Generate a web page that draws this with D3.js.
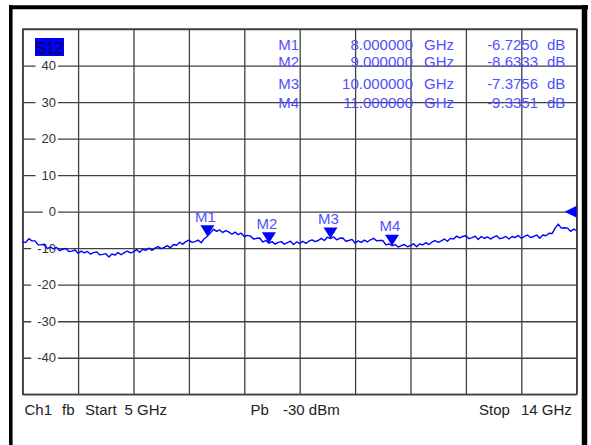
<!DOCTYPE html>
<html>
<head>
<meta charset="utf-8">
<script src="https://cdn.jsdelivr.net/npm/d3@7/dist/d3.min.js"></script>
<style>
  html, body { margin: 0; padding: 0; background: #fff; }
  svg { display: block; font-family: "Liberation Sans", Arial, sans-serif; }
</style>
</head>
<body>
<svg id="chart" width="591" height="445"></svg>
<script>
// ---- data ----
const startGHz = 5;
const stopGHz = 14;
const yTickValues = [40, 30, 20, 10, 0, -10, -20, -30, -40];
const traceName = "S12";
// measured S12 (dB), 181 sweep points from 5 GHz to 14 GHz
const traceDB = [
  -8.3, -8.4, -7.4, -8.0, -8.0, -9.1, -9.1, -8.9, -10.1, -9.7,
  -10.2, -9.8, -10.7, -10.3, -10.1, -10.9, -10.8, -10.5, -11.4, -10.8,
  -11.3, -10.9, -11.6, -11.2, -11.0, -11.8, -11.7, -11.5, -12.4, -11.6,
  -11.9, -11.2, -11.8, -11.2, -10.8, -11.3, -11.0, -10.4, -11.1, -10.3,
  -10.6, -10.0, -10.6, -10.0, -9.6, -10.1, -9.8, -9.3, -9.9, -9.0,
  -9.2, -8.4, -8.9, -8.2, -7.8, -8.4, -8.2, -7.8, -8.5, -7.4,
  -6.725, -5.8, -4.8, -5.4, -5.0, -5.7, -5.2, -5.6, -6.2, -5.6,
  -6.3, -5.9, -6.8, -6.5, -6.7, -7.5, -7.3, -7.2, -8.3, -7.9,
  -8.633, -8.2, -8.9, -8.4, -8.2, -8.9, -8.5, -8.1, -9.0, -8.3,
  -8.7, -8.1, -8.7, -8.1, -7.7, -8.2, -7.9, -7.3, -7.9, -7.0,
  -7.376, -6.9, -7.7, -7.3, -7.2, -8.1, -7.9, -7.6, -8.6, -8.0,
  -8.4, -7.8, -8.3, -7.7, -7.3, -8.0, -7.9, -7.9, -9.1, -8.8,
  -9.335, -9.0, -9.7, -9.3, -9.0, -9.6, -9.3, -8.8, -9.6, -8.8,
  -9.1, -8.5, -9.0, -8.3, -7.9, -8.4, -8.0, -7.5, -8.1, -7.3,
  -7.5, -6.7, -7.2, -6.8, -6.6, -7.4, -7.1, -6.7, -7.6, -6.8,
  -7.3, -6.9, -7.5, -7.0, -6.6, -7.4, -7.2, -6.8, -7.5, -6.8,
  -7.1, -6.5, -7.3, -6.8, -6.4, -7.1, -6.8, -6.4, -7.3, -6.4,
  -6.6, -5.9, -6.0, -4.5, -3.4, -4.5, -4.4, -4.5, -5.4, -4.8,
  -5.2
];
const markerNames = ["M1", "M2", "M3", "M4"];
const markerGHz = [8, 9, 10, 11];
const markerDB = [-6.7250, -8.6333, -7.3756, -9.3351];
const markerFreqText = ["8.000000", "9.000000", "10.000000", "11.000000"];
const markerValText = ["-6.7250", "-8.6333", "-7.3756", "-9.3351"];
const refLevelDB = 0;
const footerTexts = ["Ch1", "fb", "Start", "5 GHz", "Pb", "-30 dBm", "Stop", "14 GHz"];

// ---- layout ----
const svg = d3.select("#chart");
const L = 22.7, R = 576.7, T = 29, B = 394.3;
const x = d3.scaleLinear().domain([startGHz, stopGHz]).range([L, R]);
const y = d3.scaleLinear().domain([-50, 50]).range([B, T]);
const gridColor = "#404040";
const textBlue = "#4f4fff";
const traceBlue = "#0000ff";

// outer frame
svg.append("rect").attr("x", 0).attr("y", 0).attr("width", 591).attr("height", 445).attr("fill", "#fff");
svg.append("line").attr("x1", 9).attr("x2", 588).attr("y1", 7.2).attr("y2", 7.2).attr("stroke", "#000").attr("stroke-width", 4);
svg.append("line").attr("x1", 10.8).attr("x2", 10.8).attr("y1", 5).attr("y2", 445).attr("stroke", "#000").attr("stroke-width", 3.6);
svg.append("line").attr("x1", 584.5).attr("x2", 584.5).attr("y1", 5).attr("y2", 445).attr("stroke", "#000").attr("stroke-width", 5.5);

// grid
const xGrid = d3.range(0, 11).map(i => startGHz + i * (stopGHz - startGHz) / 10);
const yGrid = d3.range(-50, 51, 10);
svg.append("g").attr("transform", `translate(0,${B})`)
  .call(d3.axisBottom(x).tickValues(xGrid).tickSize(-(B - T)).tickFormat(""))
  .call(g => g.select(".domain").remove())
  .call(g => g.selectAll("line").attr("stroke", gridColor).attr("stroke-width", 1.3));
svg.append("g").attr("transform", `translate(${L},0)`)
  .call(d3.axisLeft(y).tickValues(yGrid).tickSize(-(R - L)).tickFormat(""))
  .call(g => g.select(".domain").remove())
  .call(g => g.selectAll("line").attr("stroke", gridColor).attr("stroke-width", 1.3));
svg.append("rect").attr("x", L).attr("y", T).attr("width", R - L).attr("height", B - T)
  .attr("fill", "none").attr("stroke", gridColor).attr("stroke-width", 1.4);

// y tick labels with white background gaps
const yl = svg.append("g");
yTickValues.forEach(v => {
  const g = yl.append("g");
  const bg = g.append("rect").attr("fill", "#fff");
  const t = g.append("text").attr("x", 56).attr("y", y(v) + 4.6)
    .attr("text-anchor", "end").attr("font-size", 13).attr("fill", "#333").text(v);
  const bb = t.node().getBBox();
  bg.attr("x", bb.x - 6).attr("y", y(v) - 2).attr("width", bb.width + 8).attr("height", 4);
});

// S12 label
svg.append("rect").attr("x", 35).attr("y", 38).attr("width", 29).attr("height", 18).attr("fill", "#0000ff");
svg.append("text").attr("x", 49.5).attr("y", 53.5).attr("text-anchor", "middle")
  .attr("font-size", 16.5).attr("fill", "#0a0a40").attr("textLength", 28).text(traceName);

// marker table
const rowBase = [49.5, 67, 88.5, 107.5];
const tbl = svg.append("g").attr("font-size", 15).attr("fill", textBlue);
markerNames.forEach((m, i) => {
  tbl.append("text").attr("x", 299).attr("y", rowBase[i]).attr("text-anchor", "end").text(m);
  tbl.append("text").attr("x", 413).attr("y", rowBase[i]).attr("text-anchor", "end").text(markerFreqText[i]);
  tbl.append("text").attr("x", 424).attr("y", rowBase[i]).text("GHz");
  tbl.append("text").attr("x", 538).attr("y", rowBase[i]).attr("text-anchor", "end").text(markerValText[i]);
  tbl.append("text").attr("x", 547).attr("y", rowBase[i]).text("dB");
});

// trace
const n = traceDB.length;
const pts = traceDB.map((d, i) => [startGHz + i * (stopGHz - startGHz) / (n - 1), d]);
svg.append("path").datum(pts)
  .attr("fill", "none").attr("stroke", traceBlue).attr("stroke-width", 1.4).attr("stroke-linejoin", "round")
  .attr("d", d3.line().x(d => x(d[0])).y(d => y(d[1])));

// markers
markerNames.forEach((m, i) => {
  const mx = x(markerGHz[i]), my = y(markerDB[i]);
  svg.append("path")
    .attr("d", `M${mx},${my} L${mx - 7},${my - 11} L${mx + 7},${my - 11} Z`)
    .attr("fill", traceBlue);
  svg.append("text").attr("x", mx - 2).attr("y", my - 14.5).attr("text-anchor", "middle")
    .attr("font-size", 15).attr("fill", textBlue).text(m);
});

// reference level arrow
const ry = y(refLevelDB);
svg.append("path").attr("d", `M${R - 12},${ry} L${R},${ry - 6} L${R},${ry + 6} Z`).attr("fill", traceBlue);

// footer
const footX = [24.5, 62, 85, 124.5, 250.5, 283, 479, 521];
const foot = svg.append("g").attr("font-size", 15).attr("fill", "#222");
footerTexts.forEach((s, i) => {
  foot.append("text").attr("x", footX[i]).attr("y", 415).text(s);
});
</script>
</body>
</html>
